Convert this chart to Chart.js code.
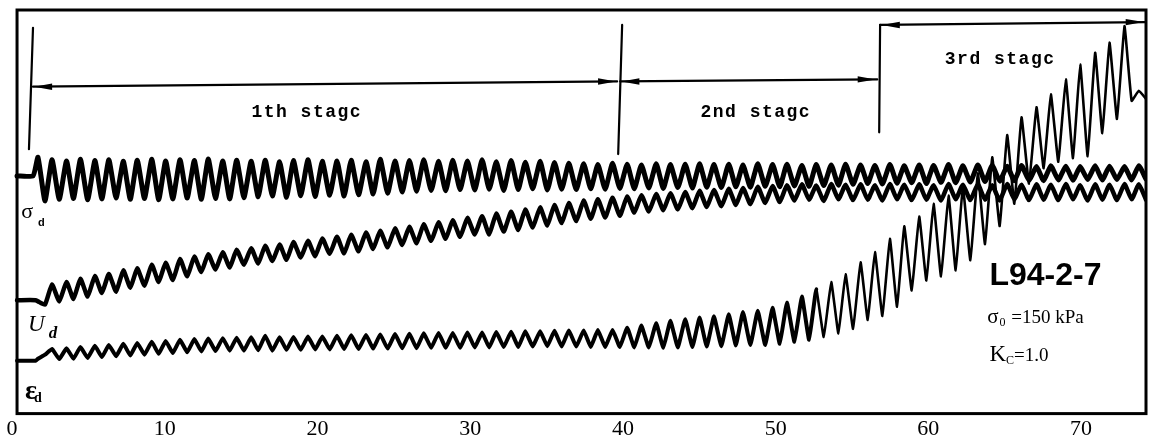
<!DOCTYPE html>
<html><head><meta charset="utf-8">
<script src="https://cdn.jsdelivr.net/npm/chart.js@4.4.1/dist/chart.umd.min.js"></script>
<style>html,body{margin:0;padding:0;background:#fff;overflow:hidden}</style>
</head><body>
<canvas id="c" width="1152" height="444"></canvas>
<script>
// ---- data (time axis units; trace values in relative chart units) ----
const xTickValues = [0, 10, 20, 30, 40, 50, 60, 70];

const cycleTimes = [1.70, 2.62, 3.57, 4.48, 5.43, 6.34, 7.29, 8.20, 9.15, 10.06,
  11.00, 11.94, 12.85, 13.80, 14.71, 15.66, 16.58, 17.52, 18.43, 19.38,
  20.32, 21.28, 22.21, 23.18, 24.11, 25.08, 26.02, 26.96, 27.93, 28.86,
  29.82, 30.78, 31.71, 32.68, 33.61, 34.58, 35.52, 36.46, 37.43, 38.36,
  39.32, 40.28, 41.21, 42.18, 43.11, 44.08, 45.02, 45.96, 46.93, 47.86,
  48.83, 49.80, 50.74, 51.72, 52.66, 53.64, 54.58, 55.56, 56.50, 57.48,
  58.42, 59.40, 60.34, 61.32, 62.26, 63.24, 64.18, 65.16, 66.10, 67.08,
  68.02, 69.00, 69.94, 70.92, 71.86, 72.84, 73.78];

const sigmaLeadT = [0.33, 1.38];
const sigmaLeadV = [58.9, 58.9];
const sigmaHigh = [63.5, 62.9, 62.6, 63.0, 62.7, 62.9, 62.5, 62.8, 63.0, 62.6, 62.9, 62.7, 63.1, 62.6, 62.8,
  62.5, 62.8, 62.4, 62.7, 62.9, 62.5, 62.6, 62.8, 62.4, 63.0, 62.6,
  62.7, 62.9, 62.5, 62.8, 62.6, 62.9, 62.4, 62.7, 62.3, 62.5, 62.2, 62.0,
  61.9, 61.7, 62.0, 61.8, 61.6, 61.9, 61.7, 61.8,
  61.9, 61.7, 61.8, 61.6, 61.9, 61.7, 61.8, 61.5, 61.7, 61.6, 61.8,
  61.6, 61.5, 61.7, 61.4, 61.6, 61.5, 61.7, 61.4, 61.6, 61.5,
  61.3, 61.5, 61.2, 61.4, 61.3, 61.2, 61.4, 61.3, 61.2, 61.4];
const sigmaLow = [52.7, 53.1, 53.3, 53.0, 53.2, 53.4, 53.1, 53.3, 53.0, 53.2, 53.4, 53.1, 53.3, 53.2, 53.5,
  53.7, 53.9, 53.6, 54.0, 53.8, 54.1, 53.9, 54.2, 54.4, 54.6, 54.9,
  55.1, 55.3, 55.2, 55.5, 55.4, 55.6, 55.3, 55.5, 55.7, 55.4, 55.6, 55.5,
  55.7, 55.6, 55.8, 55.7, 55.9, 55.8, 56.0, 55.9,
  56.1, 56.0, 56.2, 56.1, 56.3, 56.2, 56.4, 56.3, 56.5, 56.6, 56.8,
  57.0, 56.9, 57.1, 57.2, 57.0, 57.3, 57.2, 57.4, 57.5, 57.6,
  57.7, 57.8, 57.7, 57.9, 57.8, 58.0, 57.9, 58.0, 57.9, 58.1];

const udLeadT = [0.33, 1.55];
const udLeadV = [28.1, 28.1];
const udHigh = [27.8, 32.0, 32.6, 33.4, 34.1, 34.6, 35.5, 36.0, 36.9, 37.4,
  38.3, 38.9, 39.5, 40.0, 40.6, 41.0, 41.6, 41.9, 42.5, 42.8,
  43.4, 43.8, 44.3, 44.9, 45.3, 45.9, 46.3, 46.9, 47.4, 47.9,
  48.5, 48.9, 49.6, 50.0, 50.6, 51.1, 51.7, 52.2, 52.8, 53.1,
  53.5, 53.8, 54.1, 54.4, 54.6, 54.9, 55.2, 55.4, 55.7, 55.9,
  56.2, 56.4, 56.6, 56.8, 56.5, 56.9, 56.7, 56.8, 56.6, 56.9,
  56.7, 56.8, 56.6, 56.9, 56.7, 56.8, 56.6, 56.9, 56.7, 56.8,
  56.7, 56.9, 56.6, 56.8, 56.7, 56.9, 56.8];
const udLow = [27.0, 27.8, 28.4, 29.0, 29.9, 30.2, 31.2, 31.7, 32.6, 33.1,
  34.0, 35.1, 35.7, 36.2, 36.9, 37.2, 37.8, 38.1, 38.7, 39.0,
  39.6, 39.7, 40.2, 40.8, 41.2, 41.8, 42.2, 42.8, 43.3, 43.8,
  44.4, 44.4, 45.1, 45.5, 46.1, 46.6, 47.2, 47.7, 48.3, 48.6,
  49.0, 49.8, 50.1, 50.4, 50.6, 50.9, 51.2, 51.4, 51.7, 51.9,
  52.2, 52.4, 52.8, 53.0, 52.7, 53.1, 52.9, 53.0, 52.8, 53.1,
  52.9, 53.0, 52.8, 53.1, 52.9, 53.0, 52.8, 53.1, 52.9, 53.0,
  52.9, 53.1, 52.8, 53.0, 52.9, 53.1, 53.0];

const epsLeadT = [0.33, 1.55];
const epsLeadV = [13.1, 13.1];
const epsHigh = [13.6, 16.0, 16.2, 16.5, 16.8, 17.0, 17.3, 17.5, 17.8, 18.0,
  18.3, 18.5, 18.6, 18.7, 18.8, 18.9, 19.3, 18.9, 19.0, 19.1,
  19.1, 19.3, 19.4, 19.5, 19.6, 19.7, 19.8, 19.9, 20.0, 20.0,
  20.1, 20.1, 20.2, 20.3, 20.4, 20.4, 20.5, 20.6, 20.6, 20.7,
  20.7, 21.3, 21.8, 22.4, 23.0, 23.4, 23.8, 24.1, 24.6, 25.2,
  25.5, 26.2, 27.5, 29.0, 30.8, 32.6, 34.5, 37.5, 40.0, 43.3,
  46.4, 48.8, 52.0, 54.0, 56.2, 59.5, 63.5, 69.0, 73.4, 75.9,
  79.1, 82.8, 86.5, 89.4, 91.9, 96.0, 80.0];
const epsLow = [14.6, 13.5, 13.6, 13.8, 14.0, 14.2, 14.4, 14.6, 14.8, 15.0,
  15.2, 15.4, 15.5, 15.6, 15.6, 15.7, 15.6, 15.8, 15.8, 15.9,
  15.9, 16.0, 16.0, 16.1, 16.1, 16.2, 16.2, 16.3, 16.3, 16.3,
  16.4, 16.4, 16.5, 16.5, 16.6, 16.7, 16.6, 16.6, 16.5, 16.5,
  16.5, 16.4, 16.4, 16.3, 16.4, 16.5, 16.6, 16.7, 16.9, 17.0,
  17.0, 17.3, 17.8, 18.3, 19.0, 19.9, 21.0, 23.2, 24.2, 26.5,
  30.5, 33.0, 34.0, 35.5, 38.0, 42.0, 46.5, 52.0, 57.0, 60.8,
  62.4, 63.3, 63.8, 69.5, 73.0, 77.5, 78.0];

// ---- build point lists from the arrays ----
function buildSeries(leadT, leadV, hi, lo) {
  const pts = leadT.map((t, i) => ({x: t, y: leadV[i]}));
  cycleTimes.forEach((t, k) => {
    const next = k + 1 < cycleTimes.length ? cycleTimes[k + 1] : t + (t - cycleTimes[k - 1]);
    pts.push({x: t, y: hi[k]});
    pts.push({x: (t + next) / 2, y: lo[k]});
  });
  return pts;
}

// ---- annotation layout (data units) ----
const frameLeft = 0.33;
const stageSegments = [
  [1.375, 95.6, 1.11, 65.5],
  [1.375, 81.0, 39.62, 82.3],
  [39.95, 96.3, 39.69, 64.3],
  [39.82, 82.3, 56.65, 82.8],
  [56.78, 69.7, 56.84, 96.3],
  [56.84, 96.3, 74.2, 97.0]
];
const arrowHeads = [
  [1.45, 81.0, -1], [39.55, 82.3, 1], [39.9, 82.3, -1], [56.55, 82.8, 1], [56.95, 96.3, -1], [74.1, 97.0, 1]
];
const stageTexts = [
  ['1th stagc', 19.3, 74.6], ['2nd stagc', 48.7, 74.6], ['3rd stagc', 64.7, 87.7]
];
const richLabels = [
  {t: 0.6, v: 48.5, runs: [['σ', '22px "Liberation Serif"', 0], ['d', 'bold 11px "Liberation Sans"', 8, 5]]},
  {t: 1.05, v: 20.4, runs: [['U', 'italic 23px "Liberation Serif"', 0], ['d', 'italic bold 17px "Liberation Serif"', 7, 4]]},
  {t: 0.85, v: 3.7, runs: [['ε', 'bold 28px "Liberation Serif"', 0], ['d', 'bold 14px "Liberation Serif"', 3, -3]]},
  {t: 64.0, v: 31.8, runs: [['L94-2-7', 'bold 32px "Liberation Sans"', 0]]},
  {t: 63.85, v: 22.4, runs: [['σ', '21px "Liberation Serif"', 0], ['0', '12px "Liberation Serif"', 3, 1], [' =150 kPa', '19px "Liberation Serif"', 0, 1]]},
  {t: 64.0, v: 13.1, runs: [['K', '23px "Liberation Serif"', 0], ['C', '12px "Liberation Serif"', 3, 0], ['=1.0', '19px "Liberation Serif"', 0, 0]]}
];

const decor = {
  id: 'decor',
  afterDatasetsDraw(chart) {
    const {ctx, chartArea: a, scales: {x, y}} = chart;
    const px = t => x.getPixelForValue(t), py = v => y.getPixelForValue(v);
    ctx.save();
    ctx.strokeStyle = '#000'; ctx.fillStyle = '#000';
    // frame
    ctx.lineWidth = 3;
    ctx.strokeRect(px(frameLeft), a.top, a.right - px(frameLeft), a.bottom - a.top);
    // stage lines
    ctx.lineWidth = 2.2; ctx.lineCap = 'round';
    stageSegments.forEach(s => {
      ctx.beginPath(); ctx.moveTo(px(s[0]), py(s[1])); ctx.lineTo(px(s[2]), py(s[3])); ctx.stroke();
    });
    arrowHeads.forEach(h => {
      const X = px(h[0]), Y = py(h[1]), d = h[2];
      ctx.beginPath(); ctx.moveTo(X, Y); ctx.lineTo(X - d * 18, Y - 3.2); ctx.lineTo(X - d * 18, Y + 3.2); ctx.closePath(); ctx.fill();
    });
    // stage texts
    ctx.font = 'bold 18px "Liberation Mono"';
    ctx.letterSpacing = '1.5px';
    ctx.textAlign = 'center'; ctx.textBaseline = 'middle';
    stageTexts.forEach(s => ctx.fillText(s[0], px(s[1]), py(s[2])));
    ctx.letterSpacing = '0px';
    // rich labels
    ctx.textAlign = 'left'; ctx.textBaseline = 'alphabetic';
    richLabels.forEach(l => {
      let cx = px(l.t); const by = py(l.v);
      l.runs.forEach(r => {
        ctx.font = r[1];
        cx += (r[3] || 0);
        ctx.fillText(r[0], cx, by + r[2]);
        cx += ctx.measureText(r[0]).width;
      });
    });
    ctx.restore();
  }
};

const common = {pointRadius: 0, borderColor: '#000', fill: false, borderJoinStyle: 'round', borderCapStyle: 'round'};
new Chart(document.getElementById('c'), {
  type: 'line',
  data: {
    datasets: [
      {...common, label: 'σd', data: buildSeries(sigmaLeadT, sigmaLeadV, sigmaHigh, sigmaLow), borderWidth: 5, tension: 0.15},
      {...common, label: 'Ud', data: buildSeries(udLeadT, udLeadV, udHigh, udLow), borderWidth: 4.5, tension: 0.15},
      {...common, label: 'εd', data: buildSeries(epsLeadT, epsLeadV, epsHigh, epsLow), borderWidth: 4, tension: 0.1,
        segment: {borderWidth: c => c.p0.parsed.x >= 52.5 ? 2.6 : 4}}
    ]
  },
  options: {
    responsive: false, animation: false, devicePixelRatio: 1,
    layout: {padding: {left: 12, right: 6, top: 10, bottom: 0}},
    plugins: {legend: {display: false}, tooltip: {enabled: false}},
    scales: {
      x: {type: 'linear', min: 0, max: 74.25,
        afterBuildTicks: s => { s.ticks = xTickValues.map(v => ({value: v})); },
        ticks: {font: {family: 'Liberation Serif', size: 22}, color: '#000', padding: 2, maxRotation: 0, autoSkip: false},
        grid: {display: false, drawTicks: false}, border: {display: false}},
      y: {display: false, min: 0, max: 100}
    }
  },
  plugins: [decor]
});
</script>
</body></html>
